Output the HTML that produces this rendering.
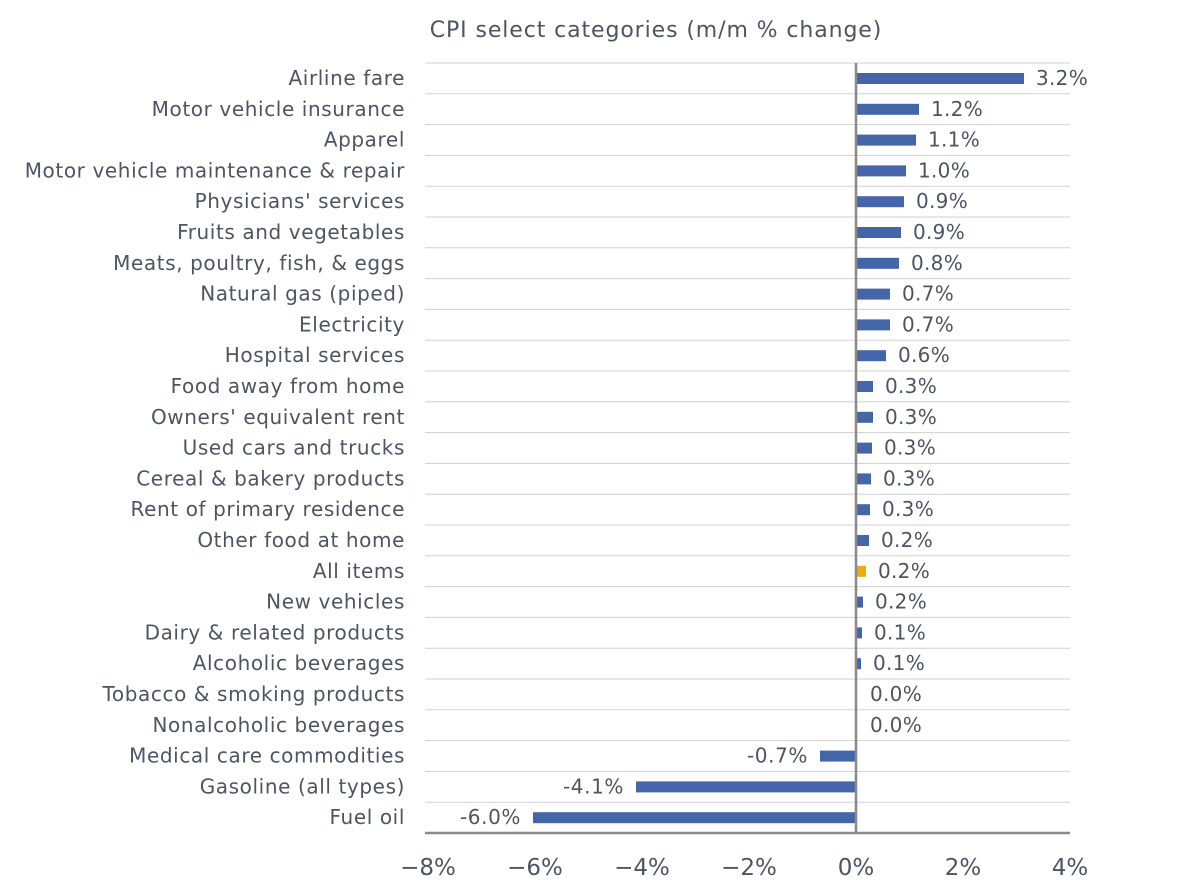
<!DOCTYPE html><html><head><style>body{margin:0;background:#fff}</style></head><body>
<svg width="1179" height="890" xmlns="http://www.w3.org/2000/svg" font-family="DejaVu Sans, sans-serif" fill="#4d5562">
<text x="656" y="37" font-size="22" text-anchor="middle" letter-spacing="0.9">CPI select categories (m/m % change)</text>
<g stroke="#d0d0d0" stroke-width="1">
<line x1="425" x2="1070" y1="63" y2="63"/><line x1="425" x2="1070" y1="93.8" y2="93.8"/><line x1="425" x2="1070" y1="124.6" y2="124.6"/><line x1="425" x2="1070" y1="155.4" y2="155.4"/><line x1="425" x2="1070" y1="186.2" y2="186.2"/><line x1="425" x2="1070" y1="217" y2="217"/><line x1="425" x2="1070" y1="247.8" y2="247.8"/><line x1="425" x2="1070" y1="278.6" y2="278.6"/><line x1="425" x2="1070" y1="309.4" y2="309.4"/><line x1="425" x2="1070" y1="340.2" y2="340.2"/><line x1="425" x2="1070" y1="371" y2="371"/><line x1="425" x2="1070" y1="401.8" y2="401.8"/><line x1="425" x2="1070" y1="432.6" y2="432.6"/><line x1="425" x2="1070" y1="463.4" y2="463.4"/><line x1="425" x2="1070" y1="494.2" y2="494.2"/><line x1="425" x2="1070" y1="525" y2="525"/><line x1="425" x2="1070" y1="555.8" y2="555.8"/><line x1="425" x2="1070" y1="586.6" y2="586.6"/><line x1="425" x2="1070" y1="617.4" y2="617.4"/><line x1="425" x2="1070" y1="648.2" y2="648.2"/><line x1="425" x2="1070" y1="679" y2="679"/><line x1="425" x2="1070" y1="709.8" y2="709.8"/><line x1="425" x2="1070" y1="740.6" y2="740.6"/><line x1="425" x2="1070" y1="771.4" y2="771.4"/><line x1="425" x2="1070" y1="802.2" y2="802.2"/>
</g>
<g font-size="20" text-anchor="end" letter-spacing="0.6">
<text x="405" y="85">Airline fare</text>
<text x="405" y="115.8">Motor vehicle insurance</text>
<text x="405" y="146.6">Apparel</text>
<text x="405" y="177.4">Motor vehicle maintenance &amp; repair</text>
<text x="405" y="208.2">Physicians' services</text>
<text x="405" y="239">Fruits and vegetables</text>
<text x="405" y="269.8">Meats, poultry, fish, &amp; eggs</text>
<text x="405" y="300.6">Natural gas (piped)</text>
<text x="405" y="331.4">Electricity</text>
<text x="405" y="362.2">Hospital services</text>
<text x="405" y="393">Food away from home</text>
<text x="405" y="423.8">Owners' equivalent rent</text>
<text x="405" y="454.6">Used cars and trucks</text>
<text x="405" y="485.4">Cereal &amp; bakery products</text>
<text x="405" y="516.2">Rent of primary residence</text>
<text x="405" y="547">Other food at home</text>
<text x="405" y="577.8">All items</text>
<text x="405" y="608.6">New vehicles</text>
<text x="405" y="639.4">Dairy &amp; related products</text>
<text x="405" y="670.2">Alcoholic beverages</text>
<text x="405" y="701">Tobacco &amp; smoking products</text>
<text x="405" y="731.8">Nonalcoholic beverages</text>
<text x="405" y="762.6">Medical care commodities</text>
<text x="405" y="793.4">Gasoline (all types)</text>
<text x="405" y="824.2">Fuel oil</text>
<text x="808" y="762.6">-0.7%</text>
<text x="624" y="793.4">-4.1%</text>
<text x="521" y="824.2">-6.0%</text>
</g>
<g fill="#4466a8">
<rect x="856" y="73" width="168" height="11"/>
<rect x="856" y="103.8" width="63" height="11"/>
<rect x="856" y="134.6" width="60" height="11"/>
<rect x="856" y="165.4" width="50" height="11"/>
<rect x="856" y="196.2" width="48" height="11"/>
<rect x="856" y="227" width="45" height="11"/>
<rect x="856" y="257.8" width="43" height="11"/>
<rect x="856" y="288.6" width="34" height="11"/>
<rect x="856" y="319.4" width="34" height="11"/>
<rect x="856" y="350.2" width="30" height="11"/>
<rect x="856" y="381" width="17" height="11"/>
<rect x="856" y="411.8" width="17" height="11"/>
<rect x="856" y="442.6" width="16" height="11"/>
<rect x="856" y="473.4" width="15" height="11"/>
<rect x="856" y="504.2" width="14" height="11"/>
<rect x="856" y="535" width="13" height="11"/>
<rect x="856" y="565.8" width="10" height="11" fill="#f0aa10"/>
<rect x="856" y="596.6" width="7" height="11"/>
<rect x="856" y="627.4" width="6" height="11"/>
<rect x="856" y="658.2" width="5" height="11"/>
<rect x="820" y="750.6" width="36" height="11"/>
<rect x="636" y="781.4" width="220" height="11"/>
<rect x="533" y="812.2" width="323" height="11"/>
</g>
<g font-size="20" letter-spacing="0.3">
<text x="1036" y="85">3.2%</text>
<text x="931" y="115.8">1.2%</text>
<text x="928" y="146.6">1.1%</text>
<text x="918" y="177.4">1.0%</text>
<text x="916" y="208.2">0.9%</text>
<text x="913" y="239">0.9%</text>
<text x="911" y="269.8">0.8%</text>
<text x="902" y="300.6">0.7%</text>
<text x="902" y="331.4">0.7%</text>
<text x="898" y="362.2">0.6%</text>
<text x="885" y="393">0.3%</text>
<text x="885" y="423.8">0.3%</text>
<text x="884" y="454.6">0.3%</text>
<text x="883" y="485.4">0.3%</text>
<text x="882" y="516.2">0.3%</text>
<text x="881" y="547">0.2%</text>
<text x="878" y="577.8">0.2%</text>
<text x="875" y="608.6">0.2%</text>
<text x="874" y="639.4">0.1%</text>
<text x="873" y="670.2">0.1%</text>
<text x="870" y="701">0.0%</text>
<text x="870" y="731.8">0.0%</text>
</g>
<line x1="856" x2="856" y1="63" y2="833" stroke="#8a8a8a" stroke-width="2.5"/>
<line x1="425" x2="1070" y1="833" y2="833" stroke="#8a8a8a" stroke-width="2.5"/>
<g font-size="23" text-anchor="middle">
<text x="428" y="875">−8%</text><text x="535" y="875">−6%</text><text x="642" y="875">−4%</text><text x="749" y="875">−2%</text><text x="856" y="875">0%</text><text x="963" y="875">2%</text><text x="1070" y="875">4%</text>
</g>
</svg></body></html>
